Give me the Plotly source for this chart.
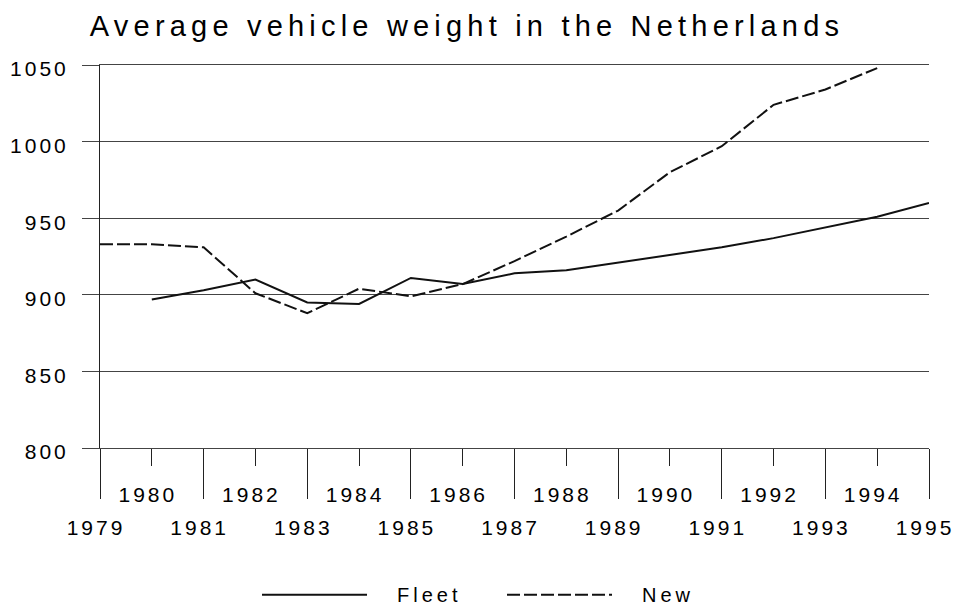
import plotly.graph_objects as go

years = list(range(1979, 1996))
fleet_years = list(range(1980, 1996))
fleet_values = [897, 903, 910, 895, 894, 911, 907, 914, 916, 921, 926, 931, 937, 944, 951, 960]
new_years = list(range(1979, 1995))
new_values = [933, 933, 931, 901, 888, 904, 899, 907, 922, 938, 955, 980, 997, 1024, 1034, 1048]

odd_ticks = [y for y in years if y % 2 == 1]
even_ticks = [y for y in years if y % 2 == 0]
y_ticks = [800, 850, 900, 950, 1000, 1050]

FONT = "Liberation Sans, Arial, sans-serif"
TICKSIZE = 21

fig = go.Figure()
fig.add_trace(go.Scatter(x=fleet_years, y=fleet_values, mode="lines", name="Fleet",
                         line=dict(color="#111", width=2)))
fig.add_trace(go.Scatter(x=new_years, y=new_values, mode="lines", name="New",
                         line=dict(color="#111", width=2, dash="13px,4px")))
# invisible trace so the secondary (even-year) axis renders
fig.add_trace(go.Scatter(x=[years[0]], y=[y_ticks[0]], xaxis="x2", mode="markers",
                         marker=dict(opacity=0), showlegend=False, hoverinfo="skip"))

fig.update_layout(
    width=955, height=605,
    margin=dict(l=100, r=26, t=65, b=157, autoexpand=False),
    paper_bgcolor="white", plot_bgcolor="white",
    font=dict(family=FONT, color="#000", size=TICKSIZE),
    title=dict(text="Average vehicle weight in the Netherlands",
               x=467 / 955, xanchor="center", y=1 - 26 / 605, yanchor="middle",
               font=dict(size=29, family=FONT, color="#000")),
    xaxis=dict(range=[1979, 1995], tickvals=odd_ticks, ticktext=[str(v) for v in odd_ticks],
               ticks="outside", ticklen=50, tickwidth=1, tickcolor="#222",
               showgrid=False, showline=True, mirror=True, linecolor="#444", linewidth=1,
               zeroline=False, automargin=False,
               ticklabelstandoff=11, ticklabelshift=-4, tickfont=dict(size=TICKSIZE)),
    xaxis2=dict(range=[1979, 1995], overlaying="x", side="bottom", anchor="y",
                tickvals=even_ticks, ticktext=[str(v) for v in even_ticks],
                ticks="outside", ticklen=17, tickwidth=1, tickcolor="#222",
                showgrid=False, showline=False, zeroline=False, automargin=False,
                ticklabelstandoff=11, ticklabelshift=-4, tickfont=dict(size=TICKSIZE)),
    yaxis=dict(range=[800, 1050], tickvals=y_ticks, ticktext=[str(v) for v in y_ticks],
               ticks="outside", ticklen=17, tickwidth=1, tickcolor="#444",
               showgrid=True, gridcolor="#444", gridwidth=1,
               showline=True, linecolor="#222", linewidth=1, zeroline=False,
               automargin=False, ticklabelstandoff=9, ticklabelshift=4,
               tickfont=dict(size=TICKSIZE)),
    showlegend=True,
    legend=dict(orientation="h", x=0.1894, xanchor="left", y=-0.332, yanchor="top",
                font=dict(size=20, family=FONT), itemwidth=130,
                entrywidth=100, entrywidthmode="pixels",
                bgcolor="rgba(0,0,0,0)"),
)

post = """
document.body.style.margin = '0';
document.body.style.overflow = 'hidden';
var gd = document.getElementById('{plot_id}');
function ls(sel, v){ gd.querySelectorAll(sel).forEach(function(t){ t.style.letterSpacing = v; }); }
ls('.gtitle', '5.2px');
ls('.xtick text', '3px');
ls('.x2tick text', '3px');
ls('.ytick text', '3px');
ls('.legendtext', '4px');
gd.querySelectorAll('.legendlines path').forEach(function(p){ p.setAttribute('d', 'M5,0h105'); });
"""

fig.write_html("out.html", post_script=post, config={"displayModeBar": False})
